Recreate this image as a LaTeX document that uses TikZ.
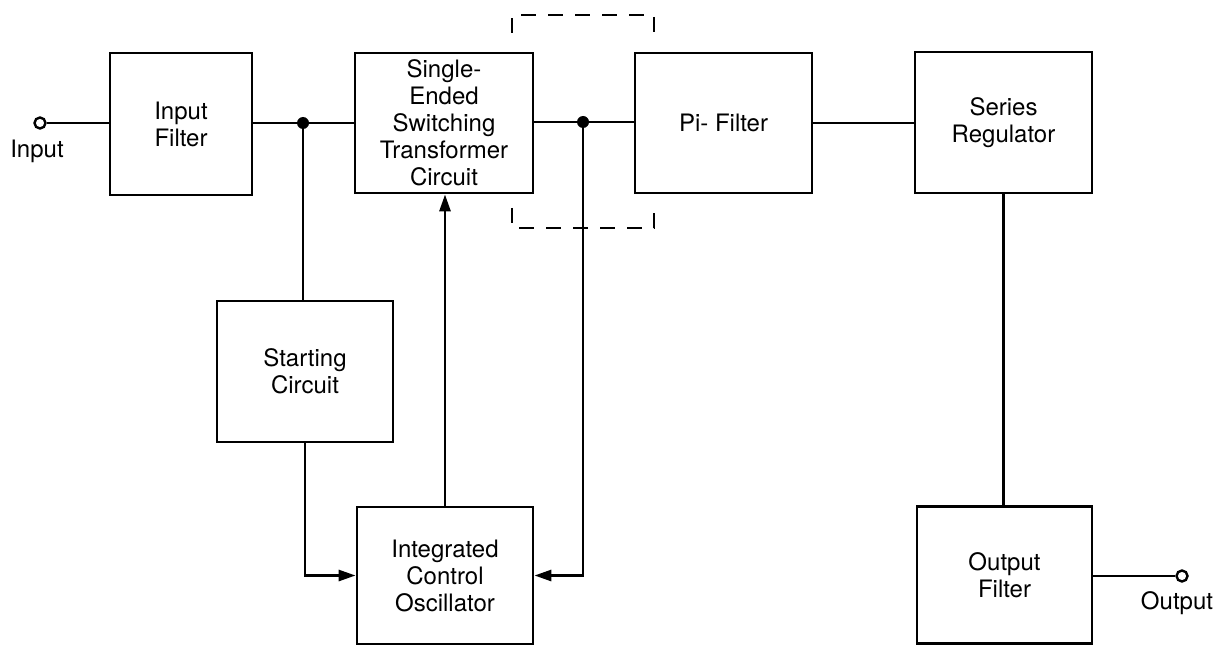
\documentclass[tikz,border=0pt]{standalone}
\usepackage{fontspec}
\setmainfont{TeX Gyre Heros}
\usetikzlibrary{arrows.meta}
\begin{document}
\begin{tikzpicture}[x=1pt,y=-1pt,
  blk/.style={draw,line width=2.8pt,rectangle,align=center,font=\fontsize{24}{27}\selectfont,inner sep=0pt},
  wire/.style={line width=2.8pt},
  arr/.style={wire,-{Triangle[length=17pt,width=11pt]}},
  dot/.style={circle,fill,inner sep=0pt,minimum size=12pt},
  term/.style={circle,draw,line width=2.4pt,fill=white,inner sep=0pt,minimum size=11pt},
  lbl/.style={font=\fontsize{24}{27}\selectfont},
  brk/.style={line width=2.8pt,dash pattern=on 15pt off 12pt}]
\useasboundingbox (0,0) rectangle (1215,647);
\fill[white] (0,0) rectangle (1215,647);

\node[blk,minimum width=142pt,minimum height=142pt] (inf) at (181,124) {Input\\Filter};
\node[blk,minimum width=178pt,minimum height=140pt] (se) at (444,123) {Single-\\Ended\\Switching\\Transformer\\Circuit};
\node[blk,minimum width=177pt,minimum height=140pt] (pi) at (723.5,123) {Pi- Filter};
\node[blk,minimum width=177pt,minimum height=141pt] (sr) at (1003.5,122.5) {Series\\Regulator};
\node[blk,minimum width=176pt,minimum height=141pt] (st) at (305,371.5) {Starting\\Circuit};
\node[blk,minimum width=176pt,minimum height=137pt] (ico) at (445,575.5) {Integrated\\Control\\Oscillator};
\node[blk,minimum width=175pt,minimum height=137pt] (of) at (1004.5,575) {Output\\Filter};

\node[term] (tin) at (40,123) {};
\node[lbl] (tinl) at (37,151) {Input};
\node[dot] (d1) at (303,123) {};
\node[dot] (d2) at (583,122) {};
\node[term] (tout) at (1182,576) {};
\node[lbl] (toutl) at (1177,603) {Output};

\draw[wire] (tin.east) -- (tin -| inf.west);
\draw[wire] (inf.east |- d1) -- (d1) -- (d1 -| se.west);
\draw[wire] (d1) -- (d1 |- st.north);
\draw[arr] (st.south) |- (ico.west);
\draw[arr] (ico.north) -- (ico.north |- se.south);
\draw[wire] (se.east |- d2) -- (d2) -- (d2 -| pi.west);
\draw[arr] (d2) |- (ico.east);
\draw[wire] (pi.east) -- (pi.east -| sr.west);
\draw[wire] (sr.south) -- (sr.south |- of.north);
\draw[wire] (of.east |- tout) -- (tout.west);

\draw[brk] (512,33) -- (512,15) -- (654,15) -- (654,33);
\draw[brk] (512,208) -- (512,228) -- (654,228) -- (654,208);
\end{tikzpicture}
\end{document}
